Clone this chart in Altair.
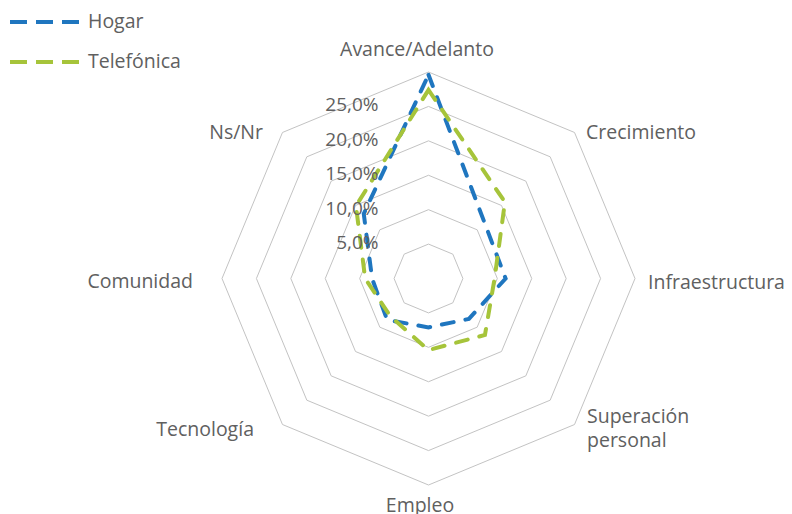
import altair as alt
import pandas as pd

# ---- data ----
categories = ["Avance/Adelanto", "Crecimiento", "Infraestructura", "Superación personal",
              "Empleo", "Tecnología", "Comunidad", "Ns/Nr"]
hogar = [29.6, 11.5, 11.2, 8.3, 7.1, 8.5, 8.2, 13.3]
telefonica = [27.4, 15.7, 9.6, 11.6, 10.4, 7.8, 9.2, 14.9]
series_names = ["Hogar", "Telefónica"]
series_colors = ["#1f76bf", "#a6c43a"]
grid_levels = [5, 10, 15, 20, 25, 30]
tick_values = [5, 10, 15, 20, 25]
tick_labels = ["5,0%", "10,0%", "15,0%", "20,0%", "25,0%"]

FONT = "Open Sans"
TXT = "#606060"
FS = 19.5

series_df = pd.DataFrame(
    [{"series": series_names[0], "cat": c, "idx": i, "value": v} for i, (c, v) in enumerate(zip(categories, hogar))]
    + [{"series": series_names[1], "cat": c, "idx": i, "value": v} for i, (c, v) in enumerate(zip(categories, telefonica))]
)
grid_df = pd.DataFrame([{"level": L, "idx": i, "value": L} for L in grid_levels for i in range(len(categories))])
tick_df = pd.DataFrame({"value": tick_values, "label": tick_labels, "idx": [0] * len(tick_values)})
label_df = pd.DataFrame({"cat": categories, "idx": list(range(len(categories))), "value": [grid_levels[-1]] * len(categories)})

n = len(categories)
xs = alt.X("px:Q", scale=alt.Scale(domain=[-30, 30], nice=False, zero=False), axis=None)
ys = alt.Y("py:Q", scale=alt.Scale(domain=[-30, 30], nice=False, zero=False), axis=None)


def polarize(ch):
    return ch.transform_calculate(theta=f"datum.idx * 2 * PI / {n}").transform_calculate(
        px="datum.value * sin(datum.theta)", py="datum.value * cos(datum.theta)"
    )


grid = polarize(alt.Chart(grid_df)).mark_line(
    interpolate="linear-closed", stroke="#c3c3c3", strokeWidth=1
).encode(x=xs, y=ys, detail="level:N", order="idx:Q")

lines = polarize(alt.Chart(series_df)).mark_line(
    interpolate="linear-closed", strokeWidth=4, strokeDash=[12, 12], strokeCap="round"
).encode(
    x=xs, y=ys, order="idx:Q", detail="series:N",
    color=alt.Color(
        "series:N",
        scale=alt.Scale(domain=series_names, range=series_colors),
        legend=alt.Legend(
            title=None, orient="none", legendX=-191, legendY=-63.5, padding=0,
            symbolType="M-3,0H3", symbolSize=529, symbolStrokeWidth=4, symbolDash=[17, 9],
            labelFont=FONT, labelFontSize=FS, labelColor=TXT, labelOffset=30, rowPadding=17,
        ),
    ),
)

ticks = alt.Chart(tick_df).transform_calculate(px="0", py="datum.value").mark_text(
    align="right", baseline="middle", dx=-50, dy=-1, font=FONT, fontSize=19, color=TXT
).encode(x=xs, y=ys, text="label:N")

label_style = {
    "Avance/Adelanto": dict(align="center", dx=-11.5, dy=-22),
    "Crecimiento": dict(align="left", dx=11.5, dy=0.5),
    "Infraestructura": dict(align="left", dx=13, dy=4.5),
    "Superación personal": dict(align="left", dx=12.5, dy=-7.5, lineBreak=" ", lineHeight=24),
    "Empleo": dict(align="center", dx=-8.5, dy=21),
    "Tecnología": dict(align="right", dx=-28.5, dy=5.5),
    "Comunidad": dict(align="right", dx=-29, dy=3.5),
    "Ns/Nr": dict(align="right", dx=-19.5, dy=0.5),
}
label_layers = []
for c in categories:
    label_layers.append(
        polarize(alt.Chart(label_df)).transform_filter(alt.datum.cat == c).mark_text(
            baseline="middle", font=FONT, fontSize=FS, color=TXT, **label_style[c]
        ).encode(x=xs, y=ys, text="cat:N")
    )

chart = alt.layer(grid, lines, ticks, *label_layers).properties(
    width=413, height=413,
    autosize=alt.AutoSizeParams(type="none"),
    padding={"left": 214, "top": 64, "right": 149, "bottom": 60},
).configure_view(stroke=None)

chart.save("out.html", embed_options={"renderer": "svg", "actions": False})
